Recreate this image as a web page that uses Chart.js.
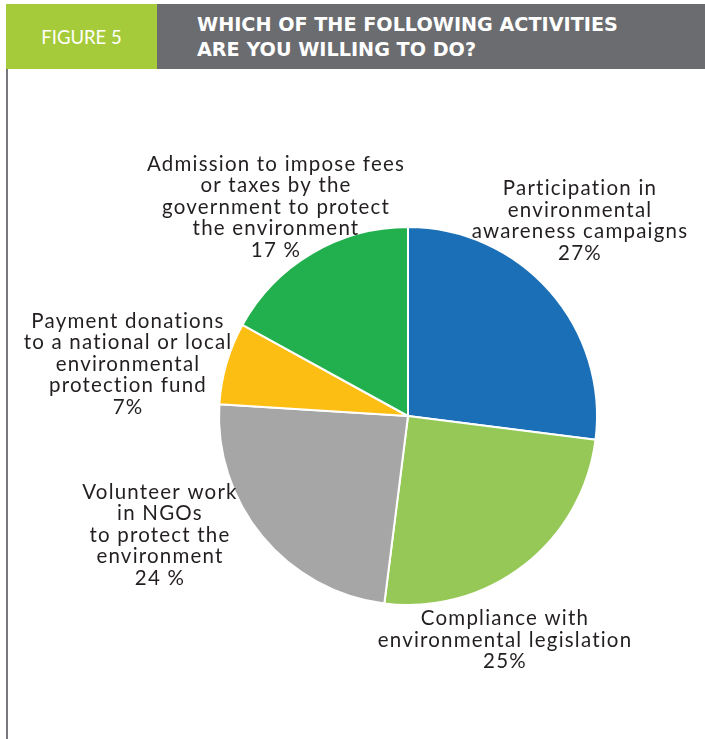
<!DOCTYPE html>
<html>
<head>
<meta charset="utf-8">
<script src="https://cdn.jsdelivr.net/npm/chart.js@4/dist/chart.umd.min.js"></script>
<style>
    html, body { margin: 0; padding: 0; background: #fff; }
    body { width: 705px; height: 739px; position: relative; overflow: hidden; }
    .figTag {
        position: absolute; left: 6px; top: 4px; width: 151px; height: 65px;
        background: #a6cb3a; color: #fff;
        font: 18.5px "Lato", sans-serif;
        display: flex; align-items: center; justify-content: center;
    }
    .figTitle {
        position: absolute; left: 157px; top: 4px; right: 0; height: 65px;
        background: #6b6c70; color: #fff;
        font: bold 19.2px "DejaVu Sans", sans-serif; line-height: 24.5px;
        padding: 9px 0 0 40px; box-sizing: border-box;
    }
    .leftRule {
        position: absolute; left: 6px; top: 69px; width: 1.5px; bottom: 0;
        background: #77787b;
    }
    #pieWrap { position: absolute; left: 0; top: 0; width: 705px; height: 739px; }
</style>
</head>
<body>
<div class="figTag">FIGURE 5</div>
<div class="figTitle">WHICH OF THE FOLLOWING ACTIVITIES<br>ARE YOU WILLING TO DO?</div>
<div class="leftRule"></div>
<div id="pieWrap"><canvas id="pieChart"></canvas></div>

<script>
const activities = [
    'Participation in environmental awareness campaigns',
    'Compliance with environmental legislation',
    'Volunteer work in NGOs to protect the environment',
    'Payment donations to a national or local environmental protection fund',
    'Admission to impose fees or taxes by the government to protect the environment'
];
const shares = [27, 25, 24, 7, 17];
const sliceColors = ['#1b6fb6', '#95c856', '#a6a6a6', '#fdbe14', '#22b04e'];

// wrapped label lines, drawn next to each slice
const labelLines = [
    ['Participation in', 'environmental', 'awareness campaigns'],
    ['Compliance with', 'environmental legislation'],
    ['Volunteer work', 'in NGOs', 'to protect the', 'environment'],
    ['Payment donations', 'to a national or local', 'environmental', 'protection fund'],
    ['Admission to impose fees', 'or taxes by the', 'government to protect', 'the environment']
];
const pctText = ['27%', '25%', '24 %', '7%', '17 %'];

// label block centre, relative to the pie centre (px)
const labelOffsets = [
    [172, -195],
    [97, 224],
    [-248, 119],
    [-280, -52],
    [-132, -209]
];
const lineStep = 21.5;

const sliceLabels = {
    id: 'sliceLabels',
    afterDatasetsDraw(chart) {
        const ctx = chart.ctx;
        const arc = chart.getDatasetMeta(0).data[0];
        const cx = arc.x, cy = arc.y;
        ctx.save();
        ctx.fillStyle = '#231f20';
        ctx.font = '20.5px "Lato", sans-serif';
        ctx.letterSpacing = '1.2px';
        ctx.textAlign = 'center';
        ctx.textBaseline = 'middle';
        labelLines.forEach((lines, i) => {
            const all = lines.concat([pctText[i]]);
            const x = cx + labelOffsets[i][0];
            const y0 = cy + labelOffsets[i][1] - (all.length - 1) * lineStep / 2;
            all.forEach((t, j) => ctx.fillText(t, x, y0 + j * lineStep));
        });
        ctx.restore();
    }
};

new Chart(document.getElementById('pieChart'), {
    type: 'pie',
    data: {
        labels: activities,
        datasets: [{
            data: shares,
            backgroundColor: sliceColors,
            borderColor: '#ffffff',
            borderWidth: 2
        }]
    },
    options: {
        responsive: true,
        maintainAspectRatio: false,
        animation: false,
        layout: {
            padding: { left: 218, right: 107, top: 226, bottom: 133 }
        },
        plugins: {
            legend: { display: false },
            tooltip: { enabled: false }
        }
    },
    plugins: [sliceLabels]
});
</script>
</body>
</html>
